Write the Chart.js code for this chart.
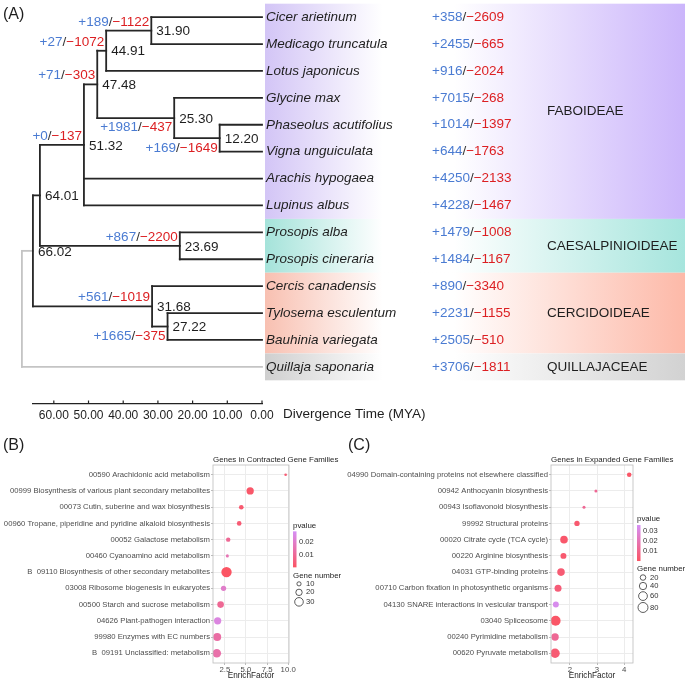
<!DOCTYPE html>
<html>
<head>
<meta charset="utf-8">
<script src="https://cdn.jsdelivr.net/npm/chart.js@4.4.1/dist/chart.umd.min.js"></script>
<style>
  body { margin: 0; background: #fff; width: 685px; height: 685px; position: relative; overflow: hidden; }
  canvas { position: absolute; }
</style>
</head>
<body>
<canvas id="tree" width="685" height="432" style="left:0;top:0;width:685px;height:432px"></canvas>
<canvas id="chartB" width="345" height="255" style="left:0;top:430px;width:345px;height:255px"></canvas>
<canvas id="chartC" width="340" height="255" style="left:345px;top:430px;width:340px;height:255px"></canvas>
<script>
// ---- (A) tree data ----
const tips = ['Cicer arietinum', 'Medicago truncatula', 'Lotus japonicus', 'Glycine max', 'Phaseolus acutifolius',
  'Vigna unguiculata', 'Arachis hypogaea', 'Lupinus albus', 'Prosopis alba', 'Prosopis cineraria',
  'Cercis canadensis', 'Tylosema esculentum', 'Bauhinia variegata', 'Quillaja saponaria'];
const tipGain = [358, 2455, 916, 7015, 1014, 644, 4250, 4228, 1479, 1484, 890, 2231, 2505, 3706];
const tipLoss = [2609, 665, 2024, 268, 1397, 1763, 2133, 1467, 1008, 1167, 3340, 1155, 510, 1811];

// internal nodes (children first), 't#' = tip, 'n#' = node
const nodeAge  = [31.90, 44.91, 12.20, 25.30, 47.48, 51.32, 23.69, 64.01, 27.22, 31.68, 66.02];
const nodeKids = [['t0','t1'], ['n0','t2'], ['t4','t5'], ['t3','n2'], ['n1','n3'], ['n4','t6','t7'],
  ['t8','t9'], ['n5','n6'], ['t11','t12'], ['t10','n8'], ['n7','n9']];
const nodeGain = [189, 27, 169, 1981, 71, 0, 867, null, 1665, 561, null];
const nodeLoss = [1122, 1072, 1649, 437, 303, 137, 2200, null, 375, 1019, null];
const rootAge = 69.2;
const rootKids = ['n10', 't13'];

const clades = ['FABOIDEAE', 'CAESALPINIOIDEAE', 'CERCIDOIDEAE', 'QUILLAJACEAE'];
const cladeFirst = [0, 8, 10, 13];
const cladeLast  = [7, 9, 12, 13];

const timeTicks = [60, 50, 40, 30, 20, 10, 0];

// ---- (B) contracted ----
const bCats = ['00590 Arachidonic acid metabolism', '00999 Biosynthesis of various plant secondary metabolites',
  '00073 Cutin, suberine and wax biosynthesis', '00960 Tropane, piperidine and pyridine alkaloid biosynthesis',
  '00052 Galactose metabolism', '00460 Cyanoamino acid metabolism',
  'B  09110 Biosynthesis of other secondary metabolites', '03008 Ribosome biogenesis in eukaryotes',
  '00500 Starch and sucrose metabolism', '04626 Plant-pathogen interaction',
  '99980 Enzymes with EC numbers', 'B  09191 Unclassified: metabolism'];
const bFactor = [9.7, 5.5, 4.45, 4.2, 2.9, 2.8, 2.7, 2.35, 2.0, 1.65, 1.6, 1.55];
const bGenes  = [3, 24, 12, 12, 11, 5, 38, 15, 21, 24, 27, 30];
const bP      = [0.004, 0.002, 0.003, 0.004, 0.010, 0.016, 0.0008, 0.020, 0.010, 0.024, 0.013, 0.014];
const bPRange = [0.0008, 0.028];
const bPTicks = [0.01, 0.02];
const bXTicks = [2.5, 5, 7.5, 10];
const bSizeKeys = [10, 20, 30];

// ---- (C) expanded ----
const cCats = ['04990 Domain-containing proteins not elsewhere classified', '00942 Anthocyanin biosynthesis',
  '00943 Isoflavonoid biosynthesis', '99992 Structural proteins', '00020 Citrate cycle (TCA cycle)',
  '00220 Arginine biosynthesis', '04031 GTP-binding proteins', '00710 Carbon fixation in photosynthetic organisms',
  '04130 SNARE interactions in vesicular transport', '03040 Spliceosome', '00240 Pyrimidine metabolism',
  '00620 Pyruvate metabolism'];
const cFactor = [4.19, 2.96, 2.52, 2.26, 1.78, 1.76, 1.67, 1.56, 1.48, 1.47, 1.45, 1.45];
const cGenes  = [11, 1, 1, 18, 43, 24, 43, 36, 24, 80, 41, 70];
const cP      = [0.001, 0.012, 0.012, 0.003, 0.002, 0.003, 0.004, 0.005, 0.034, 0.001, 0.012, 0.004];
const cPRange = [0, 0.036];
const cPTicks = [0.01, 0.02, 0.03];
const cXTicks = [2, 3, 4];
const cSizeKeys = [20, 40, 60, 80];

// ---- style ----
const FONT = "'Liberation Sans', Arial, sans-serif";
Chart.defaults.font.family = FONT;
Chart.defaults.color = '#333';
const BLUE = '#4a7bd2', RED = '#dc1f22', INK = '#1e1e1e';
const cladeColors = [['#d3c5f6', '#cbb5fb'], ['#a5e3da', '#a6e5dd'], ['#f8c0b1', '#fdb9a8'], ['#cfcfcf', '#d2d2d2']];
const LOW = [251, 84, 99], HIGH = [213, 143, 245];
const labelBelow = new Set([2, 3, 8]);

function pColor(p, range) {
  const t = Math.max(0, Math.min(1, (p - range[0]) / (range[1] - range[0])));
  const c = LOW.map((v, i) => Math.round(v + (HIGH[i] - v) * t));
  return `rgb(${c[0]},${c[1]},${c[2]})`;
}
const sizeB = n => 1 + 0.11 * n;
const sizeC = n => Math.sqrt(2 + 0.287 * n);

// ---- tree geometry from node data ----
const nodeY = [];
const yOf = k => k[0] === 't' ? +k.slice(1) : nodeY[+k.slice(1)];
const ageOf = k => k[0] === 't' ? 0 : nodeAge[+k.slice(1)];
nodeKids.forEach((kids, i) => {
  const ys = kids.map(yOf);
  nodeY[i] = (Math.min(...ys) + Math.max(...ys)) / 2;
});

const segs = [];
function addClade(age, kids, color) {
  const ys = kids.map(yOf);
  segs.push({ pts: [{x: age, y: Math.min(...ys)}, {x: age, y: Math.max(...ys)}], color });
  kids.forEach(k => segs.push({ pts: [{x: age, y: yOf(k)}, {x: ageOf(k), y: yOf(k)}], color }));
}
nodeKids.forEach((kids, i) => addClade(nodeAge[i], kids, '#262626'));
addClade(rootAge, rootKids, '#c4c4c4');

function drawGL(ctx, x, y, gain, loss, alignRight) {
  const parts = [['+' + gain, BLUE], ['/', '#333'], ['\u2212' + loss, RED]];
  const w = parts.reduce((s, p) => s + ctx.measureText(p[0]).width, 0);
  let cx = alignRight ? x - w : x;
  ctx.textAlign = 'left';
  parts.forEach(([t, c]) => { ctx.fillStyle = c; ctx.fillText(t, cx, y); cx += ctx.measureText(t).width; });
}

const treeDeco = {
  id: 'treeDeco',
  beforeDatasetsDraw(chart) {
    const { ctx, scales: { x, y } } = chart;
    const x0 = x.getPixelForValue(0) + 3, x1 = chart.width;
    ctx.save();
    clades.forEach((c, i) => {
      const top = y.getPixelForValue(cladeFirst[i] - 0.5), bot = y.getPixelForValue(cladeLast[i] + 0.5);
      const g = ctx.createLinearGradient(x0, 0, x1, 0);
      g.addColorStop(0, cladeColors[i][0]);
      g.addColorStop(0.28, '#ffffff');
      g.addColorStop(0.45, '#ffffff');
      g.addColorStop(1, cladeColors[i][1]);
      ctx.fillStyle = g;
      ctx.fillRect(x0, top, x1 - x0, bot - top);
    });
    ctx.restore();
  },
  afterDatasetsDraw(chart) {
    const { ctx, scales: { x, y } } = chart;
    ctx.save();
    ctx.textBaseline = 'middle';
    ctx.fillStyle = INK;
    ctx.font = `16px ${FONT}`;
    ctx.fillText('(A)', 3, 15);
    ctx.font = `13.5px ${FONT}`;
    // node ages and branch gain/loss
    nodeAge.forEach((a, i) => {
      const px = x.getPixelForValue(a), py = y.getPixelForValue(nodeY[i]);
      ctx.fillStyle = INK; ctx.textAlign = 'left'; ctx.textBaseline = 'middle';
      ctx.fillText(a.toFixed(2), px + 5, py + 1);
      if (nodeGain[i] == null) return;
      if (labelBelow.has(i)) { ctx.textBaseline = 'top'; drawGL(ctx, px - 2, py + 3, nodeGain[i], nodeLoss[i], true); }
      else { ctx.textBaseline = 'bottom'; drawGL(ctx, px - 2, py - 2, nodeGain[i], nodeLoss[i], true); }
    });
    // tips
    const tx = x.getPixelForValue(0);
    tips.forEach((t, i) => {
      const py = y.getPixelForValue(i);
      ctx.textBaseline = 'middle';
      ctx.font = `italic 13.5px ${FONT}`;
      ctx.fillStyle = INK; ctx.textAlign = 'left';
      ctx.fillText(t, tx + 4, py);
      ctx.font = `13.5px ${FONT}`;
      drawGL(ctx, tx + 170, py, tipGain[i], tipLoss[i], false);
    });
    // clade names
    ctx.fillStyle = INK; ctx.textAlign = 'left'; ctx.textBaseline = 'middle';
    clades.forEach((c, i) => {
      ctx.fillText(c, tx + 285, y.getPixelForValue((cladeFirst[i] + cladeLast[i]) / 2));
    });
    // upward tick marks + axis title
    const by = chart.chartArea.bottom;
    ctx.strokeStyle = '#222'; ctx.lineWidth = 1.2;
    timeTicks.forEach(v => {
      const px = x.getPixelForValue(v);
      ctx.beginPath(); ctx.moveTo(px, by); ctx.lineTo(px, by - 3.5); ctx.stroke();
    });
    ctx.fillText('Divergence Time (MYA)', chart.chartArea.right + 21, by + 10);
    ctx.restore();
  }
};

new Chart(document.getElementById('tree'), {
  type: 'scatter',
  data: {
    datasets: segs.map(s => ({
      data: s.pts, showLine: true, borderColor: s.color, borderWidth: 1.8,
      borderCapStyle: 'square', pointRadius: 0, clip: false
    }))
  },
  options: {
    responsive: false, animation: false, events: [],
    layout: { padding: { left: 33, right: 423, top: 1, bottom: 0 } },
    plugins: { legend: { display: false }, tooltip: { enabled: false } },
    scales: {
      x: {
        type: 'linear', reverse: true, min: 0, max: 66,
        afterBuildTicks: s => { s.ticks = timeTicks.map(v => ({ value: v })); },
        afterFit: s => { s.height = 28; },
        grid: { display: false, drawTicks: false },
        border: { display: true, color: '#222', width: 1.2 },
        ticks: { callback: v => v.toFixed(2), font: { size: 12 }, color: INK, padding: 4, maxRotation: 0, autoSkip: false }
      },
      y: { type: 'linear', reverse: true, min: -0.6, max: 14.38, display: false }
    }
  },
  plugins: [treeDeco]
});

// ---- bubble panels ----
function bubbleDeco(letter, title, pRange, pTicks, sizeKeys, sizeFn) {
  return {
    id: 'deco' + letter,
    afterDraw(chart) {
      const { ctx, chartArea: a } = chart;
      ctx.save();
      ctx.fillStyle = INK; ctx.textAlign = 'left'; ctx.textBaseline = 'middle';
      ctx.font = `16px ${FONT}`;
      ctx.fillText(letter, 3, 16);
      ctx.font = `7.9px ${FONT}`;
      ctx.fillText(title, a.left, a.top - 5);
      ctx.strokeStyle = '#bcbcbc'; ctx.lineWidth = 0.8;
      ctx.strokeRect(a.left, a.top, a.right - a.left, a.bottom - a.top);
      // x axis title
      ctx.textAlign = 'center';
      ctx.font = `8.2px ${FONT}`;
      ctx.fillText('EnrichFactor', (a.left + a.right) / 2, a.bottom + 13);
      ctx.textAlign = 'left';
      // legend block, vertically centred on the panel
      const radii = sizeKeys.map(sizeFn);
      let keysH = 0;
      radii.forEach((r, i) => { keysH += i === 0 ? 0 : Math.max(radii[i - 1] + r + 2, 8.5); });
      const blockH = 6 + 42 + 9 + 8 + keysH + radii[radii.length - 1];
      const lx = a.right + 4;
      let yy = (a.top + a.bottom) / 2 - blockH / 2 + 5;
      ctx.font = `7.9px ${FONT}`; ctx.fillStyle = INK;
      ctx.fillText('pvalue', lx, yy);
      const bt = yy + 6, bb = yy + 42;
      const g = ctx.createLinearGradient(0, bt, 0, bb);
      g.addColorStop(0, pColor(pRange[1], pRange));
      g.addColorStop(1, pColor(pRange[0], pRange));
      ctx.fillStyle = g;
      ctx.fillRect(lx, bt, 3.5, bb - bt);
      ctx.fillStyle = '#333'; ctx.font = `7.6px ${FONT}`;
      pTicks.forEach(p => {
        const py = bb - (p - pRange[0]) / (pRange[1] - pRange[0]) * (bb - bt);
        ctx.fillText(p.toFixed(2), lx + 6, py);
      });
      yy = bb + 8;
      ctx.font = `7.9px ${FONT}`; ctx.fillStyle = INK;
      ctx.fillText('Gene number', lx, yy);
      let ky = yy + 8.5;
      ctx.strokeStyle = '#333'; ctx.lineWidth = 0.8; ctx.font = `7.6px ${FONT}`;
      radii.forEach((r, i) => {
        if (i > 0) ky += Math.max(radii[i - 1] + r + 2, 8.5);
        ctx.beginPath(); ctx.arc(lx + 6, ky, r, 0, Math.PI * 2); ctx.stroke();
        ctx.fillStyle = '#333';
        ctx.fillText(String(sizeKeys[i]), lx + 13, ky);
      });
      ctx.restore();
    }
  };
}

function bubbleChart(id, letter, title, cats, factor, genes, pv, pRange, pTicks, xTicks, xMin, xMax, xFmt, sizeKeys, sizeFn, yWidth, padRight) {
  new Chart(document.getElementById(id), {
    type: 'bubble',
    data: {
      datasets: [{
        data: factor.map((v, i) => ({ x: v, y: i, r: sizeFn(genes[i]) })),
        backgroundColor: pv.map(p => pColor(p, pRange)),
        borderWidth: 0
      }]
    },
    options: {
      responsive: false, animation: false, events: [],
      layout: { padding: { left: 0, top: 35, right: padRight, bottom: 0 } },
      plugins: { legend: { display: false }, tooltip: { enabled: false } },
      scales: {
        x: {
          type: 'linear', min: xMin, max: xMax,
          afterBuildTicks: s => { s.ticks = xTicks.map(v => ({ value: v })); },
          afterFit: s => { s.height = 22; },
          grid: { color: '#ececec', tickLength: 2, tickColor: '#bcbcbc' },
          border: { display: false },
          ticks: { callback: xFmt, font: { size: 7.8 }, color: '#4d4d4d', padding: 0, maxRotation: 0, autoSkip: false }
        },
        y: {
          type: 'linear', reverse: true, min: -0.6, max: cats.length - 0.4,
          afterBuildTicks: s => { s.ticks = cats.map((_, i) => ({ value: i })); },
          afterFit: s => { s.width = yWidth; },
          grid: { color: '#ececec', tickLength: 2, tickColor: '#bcbcbc' },
          border: { display: false },
          ticks: { callback: v => cats[v], font: { size: 7.7 }, color: '#4d4d4d', padding: 1, autoSkip: false }
        }
      }
    },
    plugins: [bubbleDeco(letter, title, pRange, pTicks, sizeKeys, sizeFn)]
  });
}

bubbleChart('chartB', '(B)', 'Genes in Contracted Gene Families', bCats, bFactor, bGenes, bP, bPRange, bPTicks,
  bXTicks, 1.1, 10.1, v => v.toFixed(1), bSizeKeys, sizeB, 213, 56);
bubbleChart('chartC', '(C)', 'Genes in Expanded Gene Families', cCats, cFactor, cGenes, cP, cPRange, cPTicks,
  cXTicks, 1.3, 4.33, v => String(v), cSizeKeys, sizeC, 206, 52);
</script>
</body>
</html>
